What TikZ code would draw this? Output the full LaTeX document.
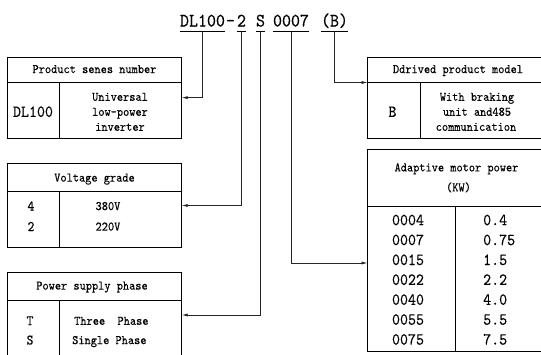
\documentclass[tikz,border=0pt]{standalone}
\usepackage{fontspec}
\newfontfamily\cnm{lmmono10-regular.otf}[FakeStretch=0.9, FakeBold=0.25]
\usetikzlibrary{arrows.meta}
\begin{document}
\begin{tikzpicture}[x=1pt,y=-1pt,
  box/.style={draw, rectangle, inner sep=0pt, outer sep=0pt, anchor=north west, line width=0.9pt},
  rule/.style={line width=0.9pt},
  body/.style={font=\cnm\fontsize{13.1}{15}\selectfont, inner sep=0pt, anchor=base},
  mid/.style={font=\cnm\fontsize{14.5}{17}\selectfont, inner sep=0pt, anchor=base},
  big/.style={font=\cnm\fontsize{16.9}{19}\selectfont, inner sep=0pt, anchor=base},
  ttl/.style={font=\cnm\fontsize{19}{22}\selectfont, inner sep=0pt, anchor=base},
  conn/.style={line width=0.8pt, black!85, -{Latex[length=6pt,width=3.2pt]}},
  uline/.style={line width=0.8pt}]
\useasboundingbox (0,0) rectangle (541,354);
\fill[white] (0,0) rectangle (541,354);
\clip (0,0) rectangle (541,354);

% ---- title code ----
\node[ttl] (n1) at (202.5,26.5) {DL100};
\node[ttl] (nd) at (230.5,26.5) {\textendash};
\node[ttl] (n2) at (241.5,26.5) {2};
\node[ttl] (n3) at (260.5,26.5) {S};
\node[ttl] (n4) at (291,26.5) {0007};
\node[ttl] (n5) at (334.5,26.5) {(B)};

\foreach \n in {1,...,5} {
  \coordinate (u\n) at (n\n |- 0,31.7);
  \draw[uline] (n\n.west |- u\n) -- (n\n.east |- u\n);
}

% ---- boxes ----
\node[box, minimum width=174.4pt, minimum height=81.3pt] (boxA) at (7.3,57) {};
\node[box, minimum width=174.4pt, minimum height=84.4pt] (boxB) at (7.3,163.3) {};
\node[box, minimum width=174.4pt, minimum height=84.6pt] (boxC) at (7.3,272.7) {};
\node[box, minimum width=190pt, minimum height=81.3pt] (boxD) at (367.5,57) {};
\node[box, minimum width=190pt, minimum height=202.4pt] (boxE) at (367.5,149.3) {};

% header rules
\draw[rule] ([yshift=-25.5pt]boxA.north west) -- ([yshift=-25.5pt]boxA.north east);
\draw[rule] ([yshift=-28.4pt]boxB.north west) -- ([yshift=-28.4pt]boxB.north east);
\draw[rule] ([yshift=-28pt]boxC.north west) -- ([yshift=-28pt]boxC.north east);
\draw[rule] ([yshift=-25.5pt]boxD.north west) -- ([yshift=-25.5pt]boxD.north east);
\draw[rule] ([yshift=-57.4pt]boxE.north west) -- ([yshift=-57.4pt]boxE.north east);

% column dividers
\draw[rule] ([xshift=51.7pt,yshift=-25.5pt]boxA.north west) -- ([xshift=51.7pt]boxA.south west);
\draw[rule] ([xshift=51.7pt,yshift=-28.4pt]boxB.north west) -- ([xshift=51.7pt]boxB.south west);
\draw[rule] ([xshift=51.7pt,yshift=-28pt]boxC.north west) -- ([xshift=51.7pt]boxC.south west);
\draw[rule] ([xshift=52.5pt,yshift=-25.5pt]boxD.north west) -- ([xshift=52.5pt]boxD.south west);
\draw[rule] ([xshift=88pt,yshift=-57.4pt]boxE.north west) -- ([xshift=88pt]boxE.south west);

% ---- connectors ----
\draw[conn] (u1) |- (boxA.east);
\draw[conn] (u2) |- (boxB.east);
\draw[conn] (u3) |- (boxC.east);
\draw[conn] (u4) |- ([yshift=-12.5pt]boxE.west);
\draw[conn] (u5) |- ([yshift=-25.5pt]boxD.north west);

% ---- box A text ----
\node[body] (hA) at (94.5,73.1) {Product senes number};
\node[big] (cA) at (33,116.9) {DL100};
\node[body] (dA1) at (120,100.8) {Universal};
\node[body] (dA2) at (120,115.8) {low-power};
\node[body] (dA3) at (120,130.8) {inverter};

% ---- box B text ----
\node[body] (hB) at (94.5,181.6) {Voltage grade};
\node[mid] (cB1) at (31,210.5) {4};
\node[mid] (cB2) at (31,231) {2};
\node[body] (dB1) at (108,210.1) {380V};
\node[body] (dB2) at (108,230.6) {220V};

% ---- box C text ----
\node[body] (hC) at (92,289.6) {Power supply phase};
\node[mid] (cC1) at (30,325.2) {T};
\node[mid] (cC2) at (30,344.5) {S};
\node[body, anchor=base west] (dC1) at (74,324.8) {Three\ \ Phase};
\node[body, anchor=base west] (dC2) at (72,344.1) {Single Phase};

% ---- box D text ----
\node[body] (hD) at (458,73.1) {Ddrived product model};
\node[big] (cD) at (392.5,116.9) {B};
\node[body] (dD1) at (477,100.8) {With braking};
\node[body] (dD2) at (477,115.8) {unit and485};
\node[body] (dD3) at (476,130.8) {communication};

% ---- box E text ----
\node[body] (hE1) at (456.5,171.4) {Adaptive motor power};
\node[body] (hE2) at (458.5,191.4) {(KW)};
\foreach \c/\v [count=\i from 0] in {0004/0.4, 0007/0.75, 0015/1.5, 0022/2.2, 0040/4.0, 0055/5.5, 0075/7.5} {
  \node[big] (code\i) at (408,{225.2+19.9*\i}) {\c};
  \node[big, anchor=base west] (val\i) at (483,{225.2+19.9*\i}) {\v};
}
\end{tikzpicture}
\end{document}
